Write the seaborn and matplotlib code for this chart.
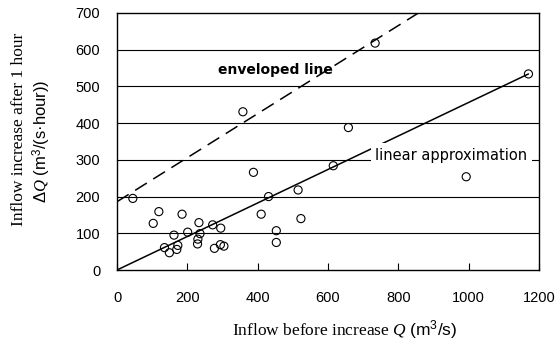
#!/usr/bin/env python3
# -*- coding: utf-8 -*-

import pandas as pd
import matplotlib
matplotlib.use("Agg")
import matplotlib.pyplot as plt
import seaborn as sns

# ================= data =================
inflow_q = [45, 119, 103, 185, 162, 135, 149, 173, 170, 201, 233, 230, 229, 236,
            272, 295, 277, 294, 304, 388, 410, 431, 453, 453, 515, 523, 358,
            658, 734, 615, 993, 1170]
increase_dq = [195, 159, 127, 152, 95, 61, 47, 67, 56, 103, 129, 84, 71, 99,
               123, 114, 59, 69, 65, 266, 152, 200, 107, 75, 218, 140, 431,
               388, 618, 284, 254, 534]

linear_x = [0, 1170]
linear_y = [0, 534]
envelope_x = [0, 857]
envelope_y = [186, 700]

x_ticks = [0, 200, 400, 600, 800, 1000, 1200]
y_ticks = [0, 100, 200, 300, 400, 500, 600, 700]

# ================= style =================
sns.set_theme(style="white")
plt.rcParams["font.family"] = ["Liberation Sans", "DejaVu Sans"]
plt.rcParams["text.color"] = "black"
plt.rcParams["xtick.color"] = "black"
plt.rcParams["ytick.color"] = "black"
plt.rcParams["mathtext.fontset"] = "custom"
plt.rcParams["mathtext.it"] = "Liberation Serif:italic"
plt.rcParams["mathtext.rm"] = "Liberation Sans"
plt.rcParams["mathtext.sf"] = "Liberation Sans"

fig = plt.figure(figsize=(5.6, 3.45), dpi=100)
ax = fig.add_axes([117 / 560, 1 - 270 / 345, (539 - 117) / 560, (270 - 13) / 345])

# horizontal grid
for yv in y_ticks[1:-1]:
    ax.axhline(yv, color="black", lw=0.8, zorder=1)

df = pd.DataFrame({"Q": inflow_q, "dQ": increase_dq})
sns.scatterplot(data=df, x="Q", y="dQ", ax=ax, s=34, marker="o",
                facecolor="none", edgecolor="black", linewidth=0.8, zorder=4)

sns.lineplot(x=linear_x, y=linear_y, ax=ax, color="black", lw=1.1, zorder=2)
sns.lineplot(x=envelope_x, y=envelope_y, ax=ax, color="black", lw=1.1,
             zorder=2).lines[-1].set_dashes((9, 5))

ax.text(450, 545, "enveloped line", ha="center", va="center",
        fontsize=10, fontweight="bold", family="DejaVu Sans", zorder=5)
ax.text(734, 313, "linear approximation", ha="left", va="center",
        fontsize=10.5, family="DejaVu Sans", zorder=5,
        bbox=dict(boxstyle="square,pad=0.3", fc="white", ec="none"))

ax.set_xlim(0, 1200)
ax.set_ylim(0, 700)
ax.set_xticks(x_ticks)
ax.set_yticks(y_ticks)
ax.set_xlabel("")
ax.set_ylabel("")
ax.tick_params(axis="x", direction="in", length=5, width=0.8, color="black",
               pad=15, labelsize=10.5, bottom=True)
ax.tick_params(axis="y", length=0, pad=12, labelsize=10.5)
for sp in ax.spines.values():
    sp.set_color("black")
    sp.set_linewidth(1.0)

# axis titles
fig.text(345 / 560, 1 - 330 / 345, r"Inflow before increase $Q$ $\mathsf{(m^3/s)}$",
         ha="center", va="center", fontsize=12.5, family="Liberation Serif")
fig.text(19 / 560, 1 - 129 / 345, "Inflow increase after 1 hour",
         ha="center", va="center", rotation=90, fontsize=12.5,
         family="Liberation Serif")
fig.text(42 / 560, 1 - 141 / 345, r"$\mathit{\Delta Q}$ (m$^3$/(s·hour))",
         ha="center", va="center", rotation=90, fontsize=12,
         family="Liberation Sans")

fig.savefig("out.png", dpi=100)
